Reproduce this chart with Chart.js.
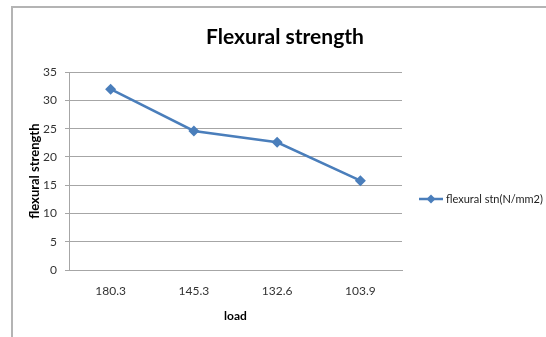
<!DOCTYPE html>
<html>
<head>
<meta charset="utf-8">
<script src="https://cdn.jsdelivr.net/npm/chart.js@4.4.1/dist/chart.umd.min.js"></script>
<style>
  html, body { margin: 0; padding: 0; background: #fff; }
  #wrap { position: relative; width: 546px; height: 337px; }
</style>
</head>
<body>
<div id="wrap"><canvas id="chart-canvas" width="546" height="337"></canvas></div>
<script>
'use strict';

// chart data
const LOADS = ['180.3', '145.3', '132.6', '103.9'];
const FLEXURAL_STN = [32, 24.6, 22.6, 15.8];
const SERIES_LABEL = 'flexural stn(N/mm2)';
const Y_MIN = 0;
const Y_MAX = 35;
const Y_STEP = 5;

const FONT = 'Lato, "Open Sans", sans-serif';
const BLUE = '#4a7ebb';
const GRID = '#a6a6a6';

/**
 * Draws the grey frame line around the chart (top and left edges).
 */
const framePlugin = {
  id: 'frame',
  beforeDraw(chart) {
    const ctx = chart.ctx;
    ctx.save();
    ctx.strokeStyle = '#b4b4b4';
    ctx.lineWidth = 2;
    ctx.beginPath();
    ctx.moveTo(12, chart.height);
    ctx.lineTo(12, 7);
    ctx.lineTo(chart.width, 7);
    ctx.stroke();
    ctx.restore();
  }
};

/**
 * Excel-like legend: short line with a diamond, then the series label.
 */
const sideLegend = {
  id: 'sideLegend',
  afterDraw(chart) {
    const ctx = chart.ctx;
    const ds = chart.data.datasets[0];
    const x0 = 419, x1 = 443, y = 199;
    ctx.save();
    ctx.strokeStyle = ds.borderColor;
    ctx.lineWidth = 2.5;
    ctx.beginPath();
    ctx.moveTo(x0, y);
    ctx.lineTo(x1, y);
    ctx.stroke();
    const cx = (x0 + x1) / 2, r = 4.5;
    ctx.fillStyle = ds.borderColor;
    ctx.beginPath();
    ctx.moveTo(cx, y - r);
    ctx.lineTo(cx + r, y);
    ctx.lineTo(cx, y + r);
    ctx.lineTo(cx - r, y);
    ctx.closePath();
    ctx.fill();
    ctx.fillStyle = '#222';
    ctx.font = '11px ' + FONT;
    ctx.textBaseline = 'middle';
    ctx.fillText(ds.label, 446, y);
    ctx.restore();
  }
};

new Chart(document.getElementById('chart-canvas'), {
  type: 'line',
  data: {
    labels: LOADS,
    datasets: [{
      label: SERIES_LABEL,
      data: FLEXURAL_STN,
      borderColor: BLUE,
      backgroundColor: BLUE,
      borderWidth: 2.5,
      pointStyle: 'rectRot',
      pointRadius: 5.5,
      pointBorderWidth: 0,
      fill: false,
      tension: 0
    }]
  },
  options: {
    responsive: false,
    animation: false,
    devicePixelRatio: 1,
    layout: { padding: { left: 24, right: 0, top: 0, bottom: 0 } },
    plugins: {
      legend: { display: false },
      tooltip: { enabled: false },
      title: {
        display: true,
        text: 'Flexural strength',
        color: '#000',
        font: { family: FONT, size: 21, weight: 'bold' },
        padding: { top: 25, bottom: 22 }
      }
    },
    scales: {
      x: {
        offset: true,
        grid: { display: true, drawOnChartArea: false, drawTicks: false },
        border: { display: true, color: GRID, width: 1 },
        ticks: { color: '#333', font: { family: FONT, size: 12 }, padding: 14, maxRotation: 0 },
        title: {
          display: true,
          text: 'load',
          color: '#000',
          font: { family: FONT, size: 12, weight: 'bold' },
          padding: { top: 0, bottom: 14 }
        },
        afterFit(scale) { scale.height = 67; }
      },
      y: {
        min: Y_MIN,
        max: Y_MAX,
        grid: { color: GRID, lineWidth: 1, tickLength: 4 },
        border: { display: true, color: GRID, width: 1 },
        ticks: { stepSize: Y_STEP, color: '#333', font: { family: FONT, size: 12 }, padding: 8 },
        title: {
          display: true,
          text: 'flexural strength',
          color: '#000',
          font: { family: FONT, size: 13, weight: 'bold' },
          padding: { top: 3, bottom: 0 }
        },
        afterFit(scale) { scale.width = 45; }
      },
      side: {
        position: 'right',
        display: true,
        grid: { display: false },
        border: { display: false },
        ticks: { display: false },
        afterFit(scale) { scale.width = 144; }
      }
    }
  },
  plugins: [framePlugin, sideLegend]
});
</script>
</body>
</html>
